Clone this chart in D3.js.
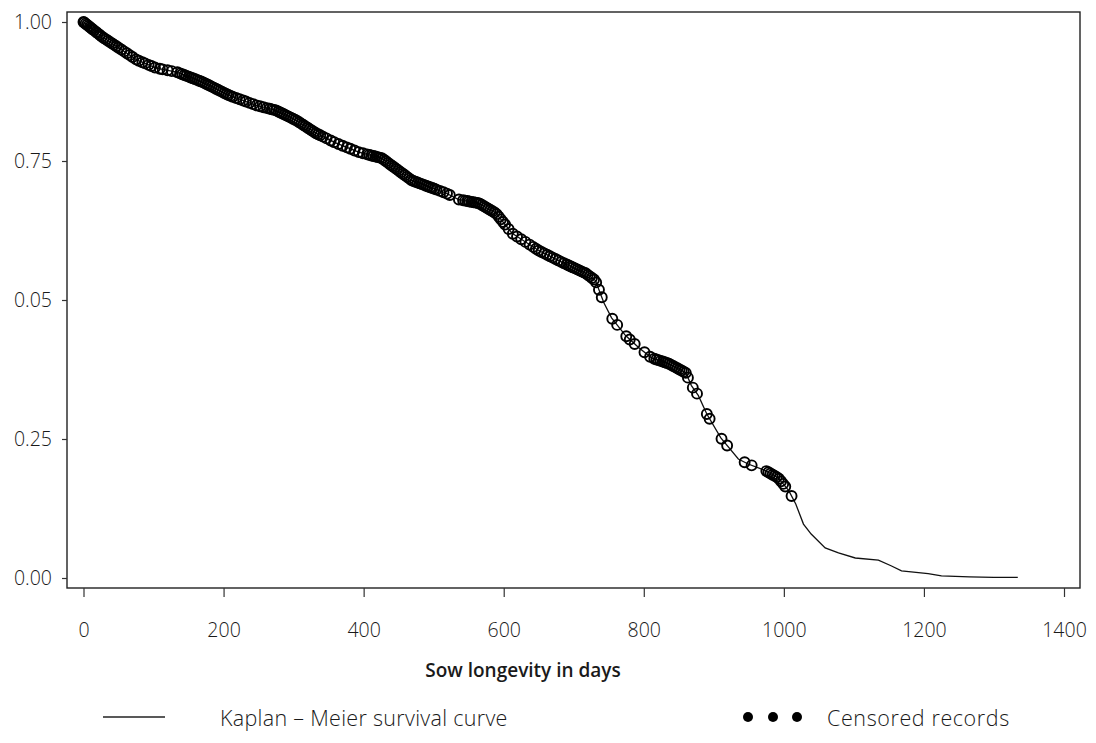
<!DOCTYPE html>
<html><head><meta charset="utf-8">
<script src="https://cdn.jsdelivr.net/npm/d3@7"></script>
<style>
body{margin:0;background:#fff}
svg{display:block}
text{font-family:"Open Sans","Noto Sans",sans-serif;fill:#1a1a1a}
</style>
</head><body>
<svg id="chart" width="1096" height="743"></svg>
<script>
// Kaplan-Meier curve (days, survival probability)
const curveDays = [0,27,51,76,104,133,170,208,247,275,304,332,361,393,426,469,518,535,565,589,612,650,683,717,731,743,754,774,793,811,835,860,868,878,890,910,935,949,974,992,1007,1017,1028,1039,1059,1078,1102,1135,1153,1168,1206,1225,1265,1300,1334];
const curveSurvival = [1.000,0.973,0.953,0.932,0.917,0.910,0.892,0.868,0.850,0.841,0.823,0.800,0.782,0.766,0.755,0.715,0.692,0.681,0.674,0.656,0.620,0.589,0.568,0.548,0.535,0.495,0.468,0.436,0.414,0.396,0.386,0.369,0.346,0.328,0.295,0.252,0.214,0.205,0.193,0.180,0.157,0.133,0.097,0.079,0.054,0.045,0.036,0.032,0.022,0.013,0.008,0.004,0.002,0.001,0.001];

// Censored records (days)
const censoredDays = [
  0,1,3,5,7,9,11,13,15,18,20,23,26,29,32,35,38,41,44,47,50,
  54,58,62,66,70,75,79,84,88,93,97,
  102,109,113,120,126,134,
  138,141,144,147,150,153,156,159,162,165,168,171,174,177,180,183,186,189,192,195,198,201,204,207,210,213,
  218,223,228,232,237,242,247,252,257,262,
  266,269,272,275,278,281,284,287,290,293,296,299,302,305,308,311,314,317,320,323,326,329,332,335,338,342,
  347,353,358,364,370,376,381,387,393,399,
  405,408,411,414,417,420,423,426,429,432,435,438,441,444,447,450,453,456,459,462,465,468,471,474,477,480,483,486,489,492,495,498,501,504,
  509,514,519,523,
  536,
  542,545,548,551,554,557,560,563,566,569,572,575,578,581,584,587,590,593,596,599,602,
  607,613,619,625,631,637,
  642,646,650,654,658,662,666,670,674,678,682,686,
  690,693,696,699,702,705,708,711,714,717,720,723,726,729,732,
  736,740,
  755,762,775,780,787,801,809,
  815,818,821,824,827,830,833,836,839,842,845,848,851,854,857,860,863,
  870,876,890,894,911,919,944,954,
  975,978,981,984,987,990,993,996,999,1002,
  1011
];

const xTickValues = [0,200,400,600,800,1000,1200,1400];
const yTickValues = [1,0.75,0.5,0.25,0];
const yTickLabels = ["1.00","0.75","0.05","0.25","0.00"];
const xTitle = "Sow longevity in days";
const legendLabels = ["Kaplan – Meier survival curve","Censored records"];

const svg = d3.select("#chart");
const x = d3.scaleLinear().domain([0,1400]).range([83.5,1064]);
const y = d3.scaleLinear().domain([0,1]).range([578,22]);

// plot frame
svg.append("rect").attr("x",67).attr("y",12).attr("width",1013).attr("height",576)
  .attr("fill","none").attr("stroke","#222").attr("stroke-width",1.4);

const tickFont = '"Open Sans","Noto Sans",sans-serif';

// y axis
const yAxis = svg.append("g").attr("transform","translate(67,0)")
  .call(d3.axisLeft(y).tickValues(yTickValues).tickSize(5).tickPadding(10)
    .tickFormat((d,i)=>yTickLabels[i]));
yAxis.select(".domain").remove();
yAxis.selectAll("line").attr("stroke","#333").attr("stroke-width",1.2);
yAxis.selectAll("text").style("font-family",tickFont).style("font-weight","300")
  .style("font-size","19.5px").attr("fill","#1a1a1a");

// x axis
const xAxis = svg.append("g").attr("transform","translate(0,588)")
  .call(d3.axisBottom(x).tickValues(xTickValues).tickSize(9).tickPadding(26)
    .tickFormat(d3.format("d")));
xAxis.select(".domain").remove();
xAxis.selectAll("line").attr("stroke","#333").attr("stroke-width",1.2);
xAxis.selectAll("text").style("font-family",tickFont).style("font-weight","300")
  .style("font-size","19.5px").attr("fill","#1a1a1a");

// x title
svg.append("text").attr("x",523).attr("y",670).attr("text-anchor","middle")
  .attr("dominant-baseline","central")
  .style("font-size","19px").style("font-weight","600").text(xTitle);

// survival curve
const pts = curveDays.map((d,i)=>[d,curveSurvival[i]]);
svg.append("path").datum(pts)
  .attr("d", d3.line().x(d=>x(d[0])).y(d=>y(d[1])).curve(d3.curveLinear))
  .attr("fill","none").attr("stroke","#111").attr("stroke-width",1.3);

// censored marks sit on the curve
const interp = d3.scaleLinear().domain(curveDays).range(curveSurvival);
svg.append("g").selectAll("circle").data(censoredDays).join("circle")
  .attr("cx",d=>x(d)).attr("cy",d=>y(interp(d))).attr("r",5)
  .attr("fill","none").attr("stroke","#000").attr("stroke-width",1.9);

// legend
svg.append("line").attr("x1",103).attr("x2",165).attr("y1",717).attr("y2",717)
  .attr("stroke","#222").attr("stroke-width",1.3);
svg.append("text").attr("x",220).attr("y",717).attr("dominant-baseline","central")
  .style("font-size","21.5px").style("font-weight","300").style("letter-spacing","0.3px")
  .text(legendLabels[0]);
svg.append("g").selectAll("circle").data([748,773,797]).join("circle")
  .attr("cx",d=>d).attr("cy",717).attr("r",5).attr("fill","#000");
svg.append("text").attr("x",827).attr("y",717).attr("dominant-baseline","central")
  .style("font-size","21.5px").style("font-weight","300").style("letter-spacing","0.6px")
  .text(legendLabels[1]);
</script>
</body></html>
